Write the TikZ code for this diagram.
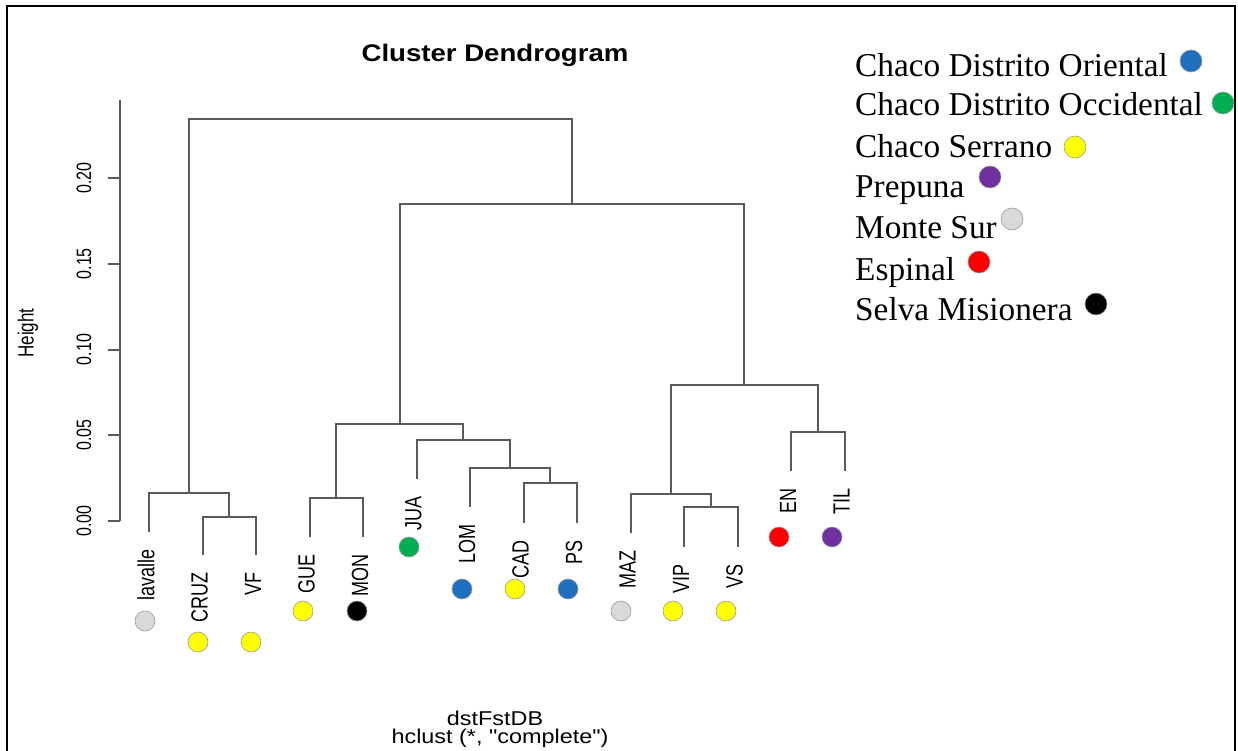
\documentclass[tikz,border=0pt]{standalone}
\usepackage{fontspec}
\setmainfont{Liberation Serif}
\setsansfont{Liberation Sans}
\usetikzlibrary{calc}

\definecolor{dotblue}{HTML}{1F6FC0}
\definecolor{dotgreen}{HTML}{00B050}
\definecolor{dotyellow}{HTML}{FFFF00}
\definecolor{dotpurple}{HTML}{7030A0}
\definecolor{dotgray}{HTML}{D9D9D9}
\definecolor{dotred}{HTML}{FF0000}
\definecolor{branchgray}{HTML}{5A5A5A}

% rotated R labels are stretched sideways in the picture
\newcommand{\thick}[1]{\scalebox{1}[1.3]{#1}}

\begin{document}
\begin{tikzpicture}[
	x=1pt, y=-1pt,
	branch/.style={draw=branchgray, line width=2pt},
	leaflabel/.style={
		rotate=90,
		anchor=east,
		inner sep=0pt,
		font=\sffamily\fontsize{18}{18}\selectfont
	},
	ticklabel/.style={rotate=90, inner sep=0pt, font=\sffamily\fontsize{16}{16}\selectfont},
	dot/.style={circle, minimum size=20pt, inner sep=0pt, draw=black!40, line width=0.6pt, fill=#1},
	legdot/.style={dot=#1, minimum size=22pt},
	legtext/.style={anchor=base west, inner sep=0pt, font=\fontsize{33.3}{33.3}\selectfont}
]
\useasboundingbox (0,0) rectangle (1238,751);
\draw[line width=2pt] (7,751) -- (7,6) -- (1235,6) -- (1235,751);

% titles
\node[font=\sffamily\bfseries\fontsize{24}{24}\selectfont] (title) at (495,55) {\scalebox{1.15}[1]{Cluster Dendrogram}};
\node[font=\sffamily\fontsize{20}{20}\selectfont, inner sep=0pt] (xlab) at (495,718) {\scalebox{1.17}[1]{dstFstDB}};
\node[font=\sffamily\fontsize{20}{20}\selectfont, inner sep=0pt] (sublab) at (500,738) {\scalebox{1.17}[1]{hclust (*, \textquotedbl complete\textquotedbl)}};
\node[rotate=90, font=\sffamily\fontsize{17}{17}\selectfont] (ylab) at (28,333) {\thick{Height}};

% axis
\draw[branch] (120,100) -- (120,521);
\draw[branch] (120,521) -- (108,521);
\draw[branch] (120,435.25) -- (108,435.25);
\draw[branch] (120,349.5) -- (108,349.5);
\draw[branch] (120,263.75) -- (108,263.75);
\draw[branch] (120,178) -- (108,178);
\node[ticklabel] (y000) at (84,521) {\thick{0.00}};
\node[ticklabel] (y005) at (84,435.25) {\thick{0.05}};
\node[ticklabel] (y010) at (84,349.5) {\thick{0.10}};
\node[ticklabel] (y015) at (84,263.75) {\thick{0.15}};
\node[ticklabel] (y020) at (84,178) {\thick{0.20}};

% leaves
\coordinate (lavalle) at (149,532);
\coordinate (CRUZ) at (202.5,555);
\coordinate (VF) at (256,555);
\coordinate (GUE) at (309.5,537);
\coordinate (MON) at (363,537);
\coordinate (JUA) at (416.5,479);
\coordinate (LOM) at (470,507);
\coordinate (CAD) at (523.5,523);
\coordinate (PS) at (577,523);
\coordinate (MAZ) at (630.5,533);
\coordinate (VIP) at (684,547);
\coordinate (VS) at (737.5,547);
\coordinate (EN) at (791,471);
\coordinate (TIL) at (844.5,471);

% merges
\coordinate (cv) at (229.25,517);
\coordinate (lcv) at (189.1,493);
\coordinate (gm) at (336.25,498);
\coordinate (cp) at (550.25,483);
\coordinate (lcp) at (510.1,468);
\coordinate (jl) at (463.3,440);
\coordinate (gj) at (399.8,424);
\coordinate (vv) at (710.75,507);
\coordinate (mv) at (670.6,494);
\coordinate (et) at (817.75,432);
\coordinate (me) at (744.2,385);
\coordinate (mid) at (572,204);
\coordinate (top) at (380.5,119);

\draw[branch] (CRUZ) |- (cv) -| (VF);
\draw[branch] (lavalle) |- (lcv) -| (cv);
\draw[branch] (GUE) |- (gm) -| (MON);
\draw[branch] (CAD) |- (cp) -| (PS);
\draw[branch] (LOM) |- (lcp) -| (cp);
\draw[branch] (JUA) |- (jl) -| (lcp);
\draw[branch] (gm) |- (gj) -| (jl);
\draw[branch] (VIP) |- (vv) -| (VS);
\draw[branch] (MAZ) |- (mv) -| (vv);
\draw[branch] (EN) |- (et) -| (TIL);
\draw[branch] (mv) |- (me) -| (et);
\draw[branch] (gj) |- (mid) -| (me);
\draw[branch] (lcv) |- (top) -| (mid);

% leaf labels
\node[leaflabel] (t-lavalle) at ($(lavalle)+(-3,17)$) {\thick{lavalle}};
\node[leaflabel] (t-CRUZ) at ($(CRUZ)+(-3,17)$) {\thick{CRUZ}};
\node[leaflabel] (t-VF) at ($(VF)+(-3,17)$) {\thick{VF}};
\node[leaflabel] (t-GUE) at ($(GUE)+(-3,17)$) {\thick{GUE}};
\node[leaflabel] (t-MON) at ($(MON)+(-3,17)$) {\thick{MON}};
\node[leaflabel] (t-JUA) at ($(JUA)+(-3,17)$) {\thick{JUA}};
\node[leaflabel] (t-LOM) at ($(LOM)+(-3,17)$) {\thick{LOM}};
\node[leaflabel] (t-CAD) at ($(CAD)+(-3,17)$) {\thick{CAD}};
\node[leaflabel] (t-PS) at ($(PS)+(-3,17)$) {\thick{PS}};
\node[leaflabel] (t-MAZ) at ($(MAZ)+(-3,17)$) {\thick{MAZ}};
\node[leaflabel] (t-VIP) at ($(VIP)+(-3,17)$) {\thick{VIP}};
\node[leaflabel] (t-VS) at ($(VS)+(-3,17)$) {\thick{VS}};
\node[leaflabel] (t-EN) at ($(EN)+(-3,17)$) {\thick{EN}};
\node[leaflabel] (t-TIL) at ($(TIL)+(-3,17)$) {\thick{TIL}};

% region dots
\node[dot=dotgray] (d-lavalle) at (145,621) {};
\node[dot=dotyellow] (d-CRUZ) at (198,642) {};
\node[dot=dotyellow] (d-VF) at (251,642) {};
\node[dot=dotyellow] (d-GUE) at (303,611) {};
\node[dot=black] (d-MON) at (357,611) {};
\node[dot=dotgreen] (d-JUA) at (409,547) {};
\node[dot=dotblue] (d-LOM) at (462,589) {};
\node[dot=dotyellow] (d-CAD) at (515,589) {};
\node[dot=dotblue] (d-PS) at (568,589) {};
\node[dot=dotgray] (d-MAZ) at (621,611) {};
\node[dot=dotyellow] (d-VIP) at (673,611) {};
\node[dot=dotyellow] (d-VS) at (726,611) {};
\node[dot=dotred] (d-EN) at (779,537) {};
\node[dot=dotpurple] (d-TIL) at (832,537) {};

% legend
\node[legtext] (oriental) at (855,77) {Chaco Distrito Oriental};
\node[legtext] (occidental) at (855,116) {Chaco Distrito Occidental};
\node[legtext] (serrano) at (855,158) {Chaco Serrano};
\node[legtext] (prepuna) at (855,198) {Prepuna};
\node[legtext] (montesur) at (855,239) {Monte Sur};
\node[legtext] (espinal) at (855,280) {Espinal};
\node[legtext] (selva) at (855,320) {Selva Misionera};
\node[legdot=dotblue] (k-oriental) at (1191,61) {};
\node[legdot=dotgreen] (k-occidental) at (1223,103) {};
\node[legdot=dotyellow] (k-serrano) at (1075,147) {};
\node[legdot=dotpurple] (k-prepuna) at (990,177) {};
\node[legdot=dotgray] (k-montesur) at (1012,219) {};
\node[legdot=dotred] (k-espinal) at (979,262) {};
\node[legdot=black] (k-selva) at (1096,304) {};
\end{tikzpicture}
\end{document}
